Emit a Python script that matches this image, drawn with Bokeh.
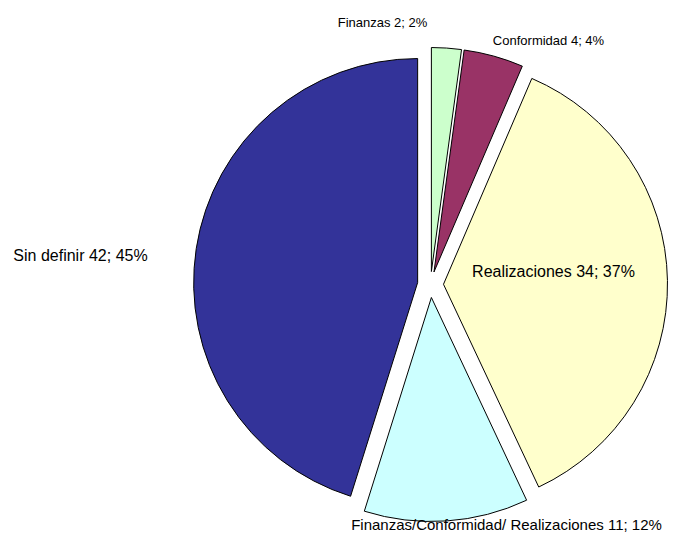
import math
from bokeh.plotting import figure
from bokeh.models import Range1d, ColumnDataSource
from bokeh.core.properties import value
from bokeh.embed import file_html
from bokeh.resources import INLINE

# ---- data ----
categories = ["Finanzas", "Conformidad", "Realizaciones",
              "Finanzas/Conformidad/ Realizaciones", "Sin definir"]
counts = [2, 4, 34, 11, 42]
colors = ["#CCFFCC", "#993366", "#FFFFCC", "#CCFFFF", "#333399"]

# ---- layout (pixels) ----
W, H = 669, 533
CX, CY = 430, 265        # pie centre in data (pixel) units, y up
R = 224                  # radius
EXPLODE = 13             # explosion distance
label_offsets = [(-48, 262), (118, 244), (123, 13), (76, -240), (-350, 29)]
label_sizes = ["13px", "13px", "16px", "15px", "16px"]

total = sum(counts)
xs, ys, starts, ends = [], [], [], []
cum = 0
for c in counts:
    a1 = math.pi / 2 - 2 * math.pi * cum / total
    cum += c
    a2 = math.pi / 2 - 2 * math.pi * cum / total
    mid = (a1 + a2) / 2
    xs.append(CX + EXPLODE * math.cos(mid))
    ys.append(CY + EXPLODE * math.sin(mid))
    starts.append(a2)
    ends.append(a1)

src = ColumnDataSource(dict(x=xs, y=ys, start=starts, end=ends, color=colors))

p = figure(width=W, height=H, output_backend="svg", toolbar_location=None,
           x_range=Range1d(0, W), y_range=Range1d(549 - H, 549),
           min_border=0)
p.axis.visible = False
p.grid.visible = False
p.outline_line_color = None
p.background_fill_color = "white"
p.border_fill_color = "white"

p.wedge(x="x", y="y", radius=R, start_angle="start", end_angle="end",
        direction="anticlock", fill_color="color", line_color="black",
        line_width=1, source=src)

for name, c, (dx, dy), fs in zip(categories, counts, label_offsets, label_sizes):
    pct = round(100 * c / total)
    p.text(x=[CX + dx], y=[CY + dy], text=[f"{name} {c}; {pct}%"],
           text_font=value("Liberation Sans"), text_font_size=fs,
           text_align="center", text_baseline="middle", text_color="black")

open("out.html", "w").write(file_html(p, INLINE))
